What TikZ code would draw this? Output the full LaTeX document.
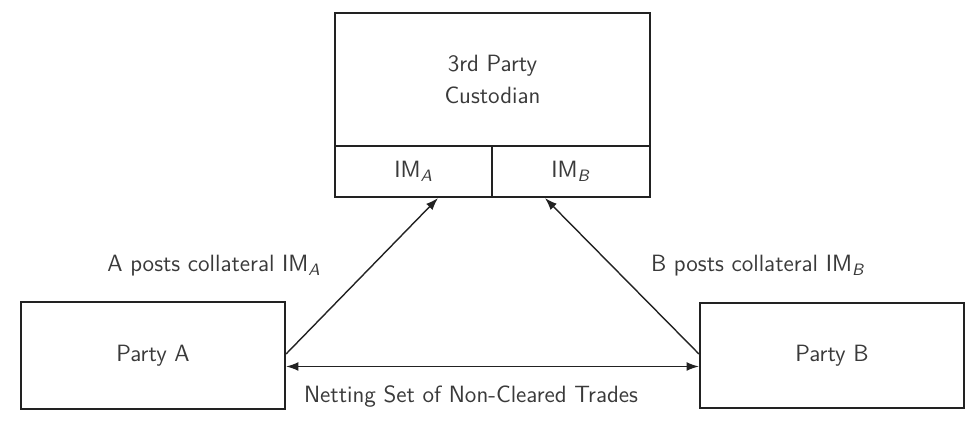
\documentclass[tikz,border=0pt]{standalone}
\usepackage{xcolor}
\usepackage{tikz}
\usetikzlibrary{arrows.meta}
\definecolor{ink}{HTML}{222222}
\definecolor{txt}{HTML}{3A3A3A}
\newcommand{\imsub}[1]{IM\textsubscript{\textit{#1}}}

\begin{document}
\begin{tikzpicture}[x=0.02cm, y=-0.02cm,
    every node/.style={font=\sffamily\fontsize{13.4}{16}\selectfont, text=txt},
    box/.style={draw=ink, line width=1.2pt, inner sep=0pt},
    link/.style={draw=ink, line width=0.8pt, -{Latex[length=7pt,width=5pt]}}]
  \useasboundingbox (0,0) rectangle (978,421);
  \node[box, minimum width=315*0.02cm, minimum height=133*0.02cm, align=center] (cust) at (492.5,79.5) {3rd Party\\[0.2em]Custodian};
  \node[box, minimum width=157*0.02cm, minimum height=51*0.02cm] (ima) at (413.5,171.5) {\imsub{A}};
  \node[box, minimum width=158*0.02cm, minimum height=51*0.02cm] (imb) at (571,171.5) {\imsub{B}};
  \node[box, minimum width=264*0.02cm, minimum height=107*0.02cm] (pa) at (153,355.5) {Party A};
  \node[box, minimum width=264*0.02cm, minimum height=105*0.02cm] (pb) at (832,355.5) {Party B};
  \draw[link] ([yshift=0.03cm]pa.east) -- ([xshift=0.49cm]ima.south);
  \draw[link] ([yshift=0.03cm]pb.west) -- ([xshift=-0.52cm]imb.south);
  \draw[link, {Latex[length=7pt,width=5pt]}-{Latex[length=7pt,width=5pt]}] ([yshift=-0.22cm]pa.east) -- ([yshift=-0.22cm]pb.west);
  \node (posta) at (214,266) {A posts collateral \imsub{A}};
  \node (postb) at (758,266) {B posts collateral \imsub{B}};
  \node (net) at (471,397) {Netting Set of Non-Cleared Trades};
\end{tikzpicture}
\end{document}
